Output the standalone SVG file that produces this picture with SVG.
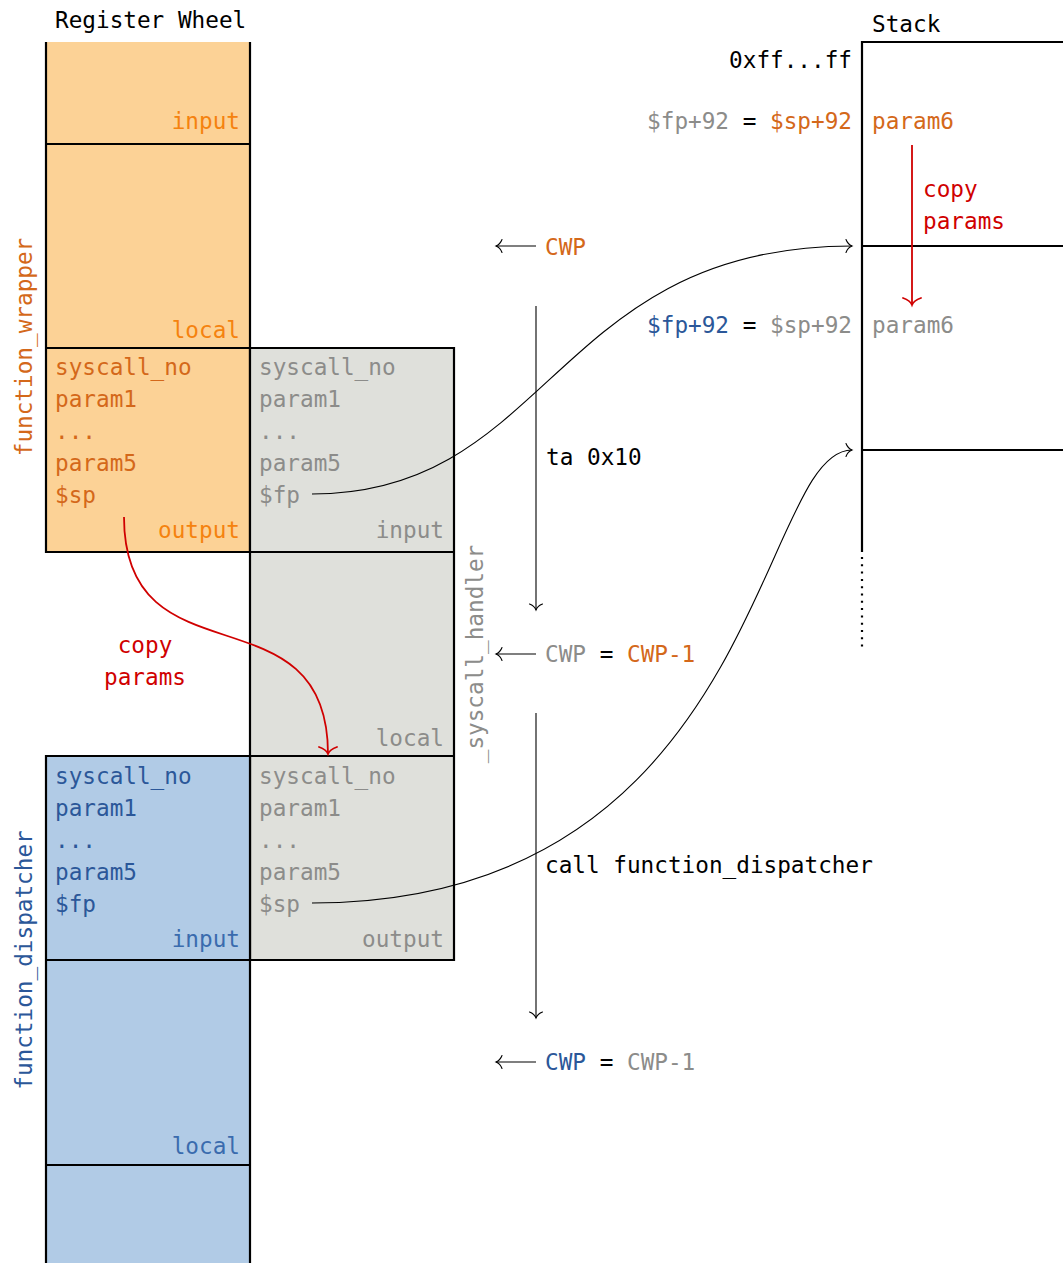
<svg xmlns="http://www.w3.org/2000/svg" width="1063" height="1263" viewBox="0 0 1063 1263">
  <style>
    .t { font-family: "DejaVu Sans Mono", "Liberation Mono", monospace; font-size: 22.7px; white-space: pre; }
    .k { fill: #000000; }
    .o { fill: #D4681A; }
    .ol { fill: #F5820F; }
    .g { fill: #8C8C8A; }
    .b { fill: #2B5799; }
    .bl { fill: #3A6BAE; }
    .r { fill: #D00000; }
    .end { text-anchor: end; }
    .mid { text-anchor: middle; }
    .box { stroke: #000; stroke-width: 2.2; fill: none; }
    .wire { stroke: #000; stroke-width: 1.1; fill: none; }
    .copy { stroke: #D00000; stroke-width: 1.8; fill: none; }
  </style>
  <defs>
    <marker id="tip" markerUnits="userSpaceOnUse" markerWidth="16" markerHeight="16" viewBox="-8 -8 16 16" refX="0" refY="0" orient="auto" overflow="visible">
      <path d="M -6 -6.5 C -4.5 -2.5 -1.5 -0.6 0 0 C -1.5 0.6 -4.5 2.5 -6 6.5" stroke="#000" stroke-width="1.1" fill="none" stroke-linecap="round"/>
    </marker>
    <marker id="tipRed" markerUnits="userSpaceOnUse" markerWidth="22" markerHeight="22" viewBox="-11 -11 22 22" refX="0" refY="0" orient="auto" overflow="visible">
      <path d="M -7 -9 C -5 -3.5 -2 -0.8 0 0 C -2 0.8 -5 3.5 -7 9" stroke="#D00000" stroke-width="1.8" fill="none" stroke-linecap="round"/>
    </marker>
  </defs>

  <rect width="1063" height="1263" fill="#FFFFFF"/>

  <text class="t k" x="55" y="28">Register Wheel</text>

  <!-- register window of function_wrapper -->
  <g id="function_wrapper">
    <rect x="46" y="42" width="204" height="510" fill="#FCD296"/>
    <path class="box" d="M46 42 V552 H250 V42 M46 144 H250 M46 348 H250"/>
    <text class="t ol end" x="240" y="129">input</text>
    <text class="t ol end" x="240" y="338">local</text>
    <text class="t o" x="55" y="374.5">syscall_no</text>
    <text class="t o" x="55" y="406.5">param1</text>
    <text class="t o" x="55" y="438.5">...</text>
    <text class="t o" x="55" y="470.5">param5</text>
    <text class="t o" x="55" y="502.5">$sp</text>
    <text class="t ol end" x="240" y="538">output</text>
    <text class="t o mid" transform="translate(32,347) rotate(-90)">function_wrapper</text>
  </g>

  <!-- register window of _syscall_handler -->
  <g id="syscall_handler">
    <rect x="250" y="348" width="204" height="612" fill="#DFE0DB"/>
    <path class="box" d="M250 348 H454 V960 H250 Z M250 552 H454 M250 756 H454"/>
    <text class="t g" x="259" y="374.5">syscall_no</text>
    <text class="t g" x="259" y="406.5">param1</text>
    <text class="t g" x="259" y="438.5">...</text>
    <text class="t g" x="259" y="470.5">param5</text>
    <text class="t g" x="259" y="502.5">$fp</text>
    <text class="t g end" x="444" y="538">input</text>
    <text class="t g end" x="444" y="746">local</text>
    <text class="t g" x="259" y="783.5">syscall_no</text>
    <text class="t g" x="259" y="815.5">param1</text>
    <text class="t g" x="259" y="847.5">...</text>
    <text class="t g" x="259" y="879.5">param5</text>
    <text class="t g" x="259" y="911.5">$sp</text>
    <text class="t g end" x="444" y="947">output</text>
    <text class="t g mid" transform="translate(482.5,654) rotate(-90)">_syscall_handler</text>
  </g>

  <!-- register window of function_dispatcher -->
  <g id="function_dispatcher">
    <rect x="46" y="756" width="204" height="507" fill="#B1CBE6"/>
    <path class="box" d="M46 1263 V756 H250 V1263 M46 960 H250 M46 1165 H250"/>
    <text class="t b" x="55" y="783.5">syscall_no</text>
    <text class="t b" x="55" y="815.5">param1</text>
    <text class="t b" x="55" y="847.5">...</text>
    <text class="t b" x="55" y="879.5">param5</text>
    <text class="t b" x="55" y="911.5">$fp</text>
    <text class="t bl end" x="240" y="947">input</text>
    <text class="t bl end" x="240" y="1154">local</text>
    <text class="t b mid" transform="translate(32,960) rotate(-90)">function_dispatcher</text>
  </g>

  <!-- stack frames -->
  <g id="stack">
    <text class="t k" x="872" y="32">Stack</text>
    <path class="box" d="M862 552 V42 H1063 M862 246 H1063 M862 450 H1063"/>
    <line x1="862" y1="557" x2="862" y2="652" stroke="#000" stroke-width="2.2" stroke-dasharray="2 5.3"/>
    <text class="t k end" x="852" y="68">0xff...ff</text>
    <text class="t end" x="852" y="129"><tspan class="g">$fp+92</tspan><tspan class="k"> = </tspan><tspan class="o">$sp+92</tspan></text>
    <text class="t o" x="872" y="129">param6</text>
    <text class="t end" x="852" y="333"><tspan class="b">$fp+92</tspan><tspan class="k"> = </tspan><tspan class="g">$sp+92</tspan></text>
    <text class="t g" x="872" y="333">param6</text>
    <text class="t r" x="923" y="197">copy</text>
    <text class="t r" x="923" y="229">params</text>
  </g>

  <!-- window pointer steps -->
  <g id="cwp_steps">
    <text class="t o" x="545" y="255">CWP</text>
    <text class="t k" x="546" y="465">ta 0x10</text>
    <text class="t" x="545" y="662"><tspan class="g">CWP</tspan><tspan class="k"> = </tspan><tspan class="o">CWP-1</tspan></text>
    <text class="t k" x="545" y="873">call function_dispatcher</text>
    <text class="t" x="545" y="1070"><tspan class="b">CWP</tspan><tspan class="k"> = </tspan><tspan class="g">CWP-1</tspan></text>
  </g>

  <!-- red copy labels -->
  <g id="copy_label">
    <text class="t r mid" x="145" y="653">copy</text>
    <text class="t r mid" x="145" y="685">params</text>
  </g>

  <g id="connectors">
    <line class="wire" x1="536" y1="246" x2="496" y2="246" marker-end="url(#tip)"/>
    <line class="wire" x1="536" y1="654" x2="496" y2="654" marker-end="url(#tip)"/>
    <line class="wire" x1="536" y1="1062" x2="496" y2="1062" marker-end="url(#tip)"/>
    <line class="wire" x1="536" y1="306" x2="536" y2="610" marker-end="url(#tip)"/>
    <line class="wire" x1="536" y1="713" x2="536" y2="1018" marker-end="url(#tip)"/>
    <path class="wire" d="M312 494 C552 494 553 246 852 246" marker-end="url(#tip)"/>
    <path class="wire" d="M312 903 C762 903 757 450 852 450" marker-end="url(#tip)"/>
    <path class="copy" d="M124 517 C124 687 328 584 328 754" marker-end="url(#tipRed)"/>
    <line class="copy" x1="912" y1="145" x2="912" y2="305" marker-end="url(#tipRed)"/>
  </g>
</svg>
